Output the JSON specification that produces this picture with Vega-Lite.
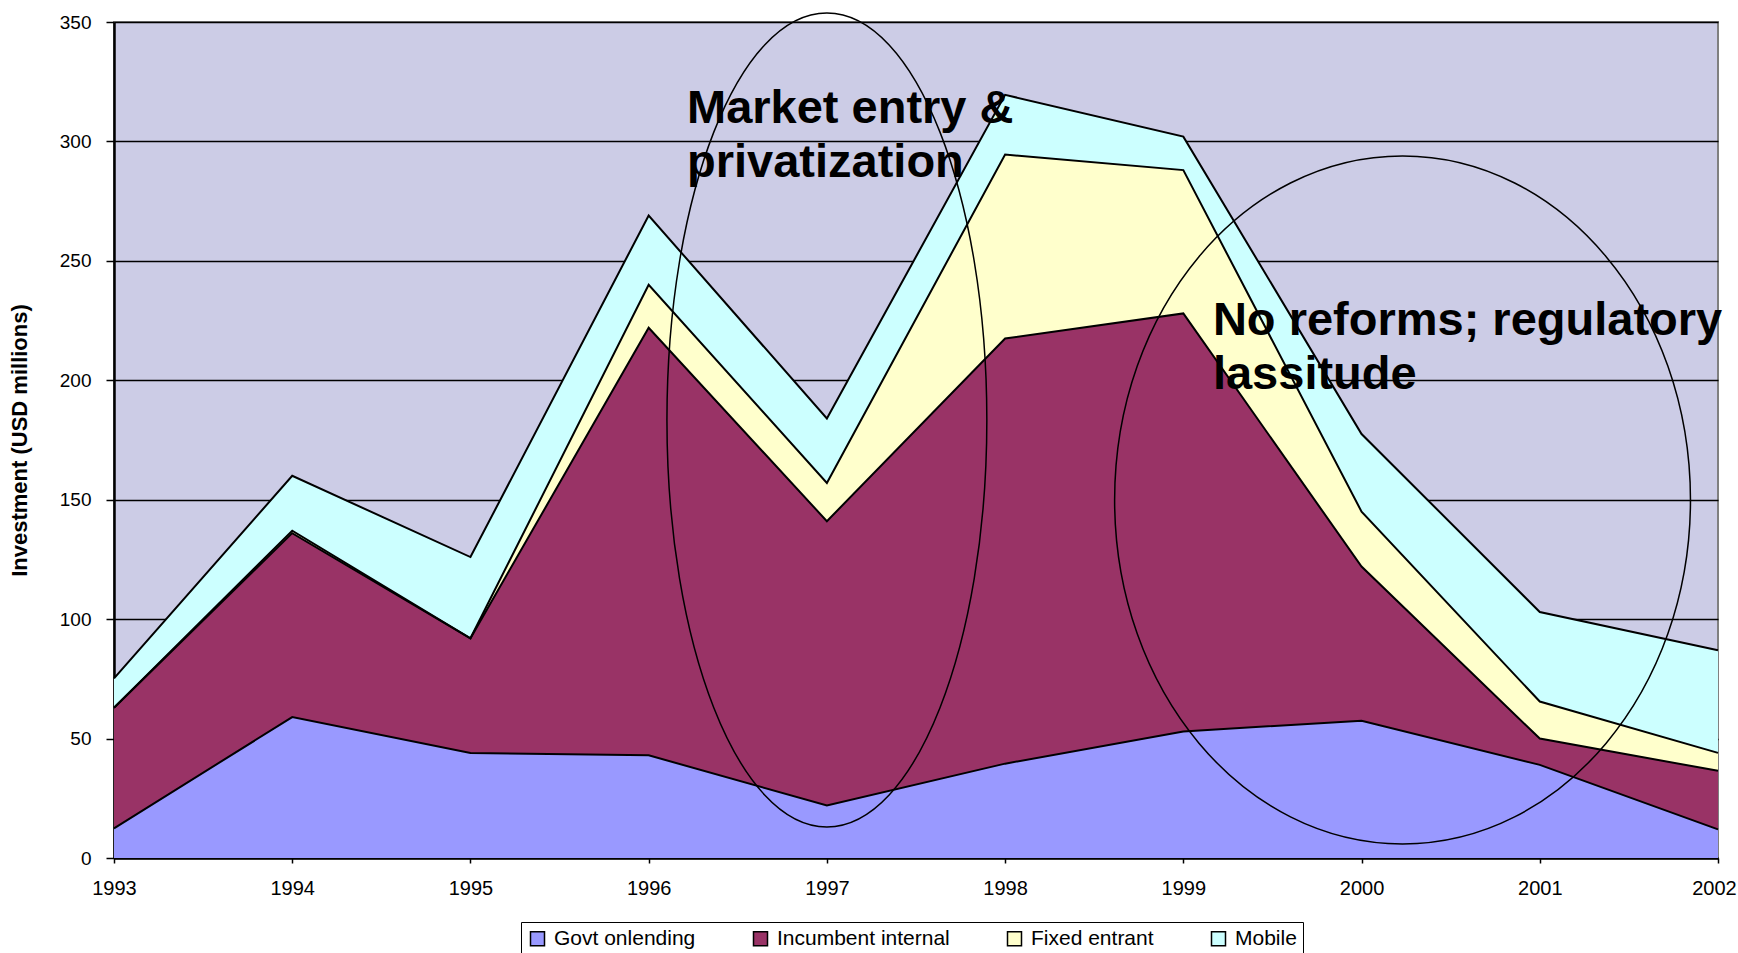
{
  "$schema": "https://vega.github.io/schema/vega-lite/v6.json",
  "width": 1604,
  "height": 836,
  "autosize": {"type": "none"},
  "padding": {"left": 114, "top": 22, "right": 20, "bottom": 95},
  "background": "white",
  "config": {
    "font": "Liberation Sans",
    "view": {"fill": "#CCCCE6", "stroke": "#808080", "strokeWidth": 2}
  },
  "datasets": {
    "inv": [
      {"year": 1993, "series": "Govt onlending", "rank": 1, "value": 12.4},
      {"year": 1994, "series": "Govt onlending", "rank": 1, "value": 59},
      {"year": 1995, "series": "Govt onlending", "rank": 1, "value": 44},
      {"year": 1996, "series": "Govt onlending", "rank": 1, "value": 43},
      {"year": 1997, "series": "Govt onlending", "rank": 1, "value": 22},
      {"year": 1998, "series": "Govt onlending", "rank": 1, "value": 39.5},
      {"year": 1999, "series": "Govt onlending", "rank": 1, "value": 53},
      {"year": 2000, "series": "Govt onlending", "rank": 1, "value": 57.5},
      {"year": 2001, "series": "Govt onlending", "rank": 1, "value": 39},
      {"year": 2002, "series": "Govt onlending", "rank": 1, "value": 12},
      {"year": 1993, "series": "Incumbent internal", "rank": 2, "value": 50.5},
      {"year": 1994, "series": "Incumbent internal", "rank": 2, "value": 77},
      {"year": 1995, "series": "Incumbent internal", "rank": 2, "value": 48},
      {"year": 1996, "series": "Incumbent internal", "rank": 2, "value": 179},
      {"year": 1997, "series": "Incumbent internal", "rank": 2, "value": 119},
      {"year": 1998, "series": "Incumbent internal", "rank": 2, "value": 178},
      {"year": 1999, "series": "Incumbent internal", "rank": 2, "value": 175},
      {"year": 2000, "series": "Incumbent internal", "rank": 2, "value": 64.5},
      {"year": 2001, "series": "Incumbent internal", "rank": 2, "value": 11},
      {"year": 2002, "series": "Incumbent internal", "rank": 2, "value": 24.5},
      {"year": 1993, "series": "Fixed entrant", "rank": 3, "value": 0},
      {"year": 1994, "series": "Fixed entrant", "rank": 3, "value": 1},
      {"year": 1995, "series": "Fixed entrant", "rank": 3, "value": 0},
      {"year": 1996, "series": "Fixed entrant", "rank": 3, "value": 18},
      {"year": 1997, "series": "Fixed entrant", "rank": 3, "value": 16},
      {"year": 1998, "series": "Fixed entrant", "rank": 3, "value": 77},
      {"year": 1999, "series": "Fixed entrant", "rank": 3, "value": 60},
      {"year": 2000, "series": "Fixed entrant", "rank": 3, "value": 23},
      {"year": 2001, "series": "Fixed entrant", "rank": 3, "value": 15.5},
      {"year": 2002, "series": "Fixed entrant", "rank": 3, "value": 7.5},
      {"year": 1993, "series": "Mobile", "rank": 4, "value": 12.3},
      {"year": 1994, "series": "Mobile", "rank": 4, "value": 23},
      {"year": 1995, "series": "Mobile", "rank": 4, "value": 34},
      {"year": 1996, "series": "Mobile", "rank": 4, "value": 29},
      {"year": 1997, "series": "Mobile", "rank": 4, "value": 27},
      {"year": 1998, "series": "Mobile", "rank": 4, "value": 25},
      {"year": 1999, "series": "Mobile", "rank": 4, "value": 14},
      {"year": 2000, "series": "Mobile", "rank": 4, "value": 32.5},
      {"year": 2001, "series": "Mobile", "rank": 4, "value": 37.5},
      {"year": 2002, "series": "Mobile", "rank": 4, "value": 43}
    ],
    "notes": [
      {"year": 1996.215, "value": 307.7, "label": "Market entry &\nprivatization"},
      {"year": 1999.166, "value": 219.1, "label": "No reforms; regulatory\nlassitude"}
    ]
  },
  "layer": [
    {
      "data": {"name": "inv"},
      "mark": {"type": "area", "opacity": 1},
      "encoding": {
        "x": {
          "field": "year", "type": "quantitative",
          "scale": {"domain": [1993, 2002], "nice": false, "zero": false},
          "axis": {
            "title": null, "values": [1993, 1994, 1995, 1996, 1997, 1998, 1999, 2000, 2001, 2002],
            "format": "d", "grid": false, "labelFontSize": 20, "labelColor": "black",
            "labelOffset": {"condition": {"test": "datum.value == 2002", "value": -4}, "value": 0},
            "tickColor": "black", "tickSize": 5, "tickWidth": 1.5, "domainColor": "black", "domainWidth": 2.5,
            "labelPadding": 15, "labelFlush": false
          }
        },
        "y": {
          "field": "value", "type": "quantitative", "stack": "zero",
          "scale": {"domain": [0, 350], "nice": false},
          "axis": {
            "title": "Investment (USD millions)", "values": [0, 50, 100, 150, 200, 250, 300, 350],
            "grid": true, "gridColor": "black", "gridWidth": 1.5,
            "labelFontSize": 19, "labelColor": "black", "labelPadding": 15,
            "tickColor": "black", "tickSize": 8, "tickWidth": 1.5,
            "domainColor": "black", "domainWidth": 2.5,
            "titleFontSize": 22, "titleFontWeight": "bold", "titleColor": "black", "titlePadding": 28
          }
        },
        "color": {
          "field": "series", "type": "nominal",
          "scale": {
            "domain": ["Govt onlending", "Incumbent internal", "Fixed entrant", "Mobile"],
            "range": ["#9999FF", "#993366", "#FFFFCC", "#CCFFFF"]
          },
          "legend": {
            "orient": "none", "legendX": 407, "legendY": 900, "direction": "horizontal", "columns": 4,
            "title": null, "symbolType": "square", "symbolSize": 196,
            "symbolStrokeColor": "black", "symbolStrokeWidth": 1.5, "symbolOpacity": 1,
            "labelFontSize": 21, "labelColor": "black", "labelOffset": 6, "labelLimit": 400,
            "columnPadding": 54, "padding": 6,
            "strokeColor": "black", "fillColor": "white"
          }
        },
        "order": {"field": "rank", "type": "quantitative", "sort": "ascending"}
      }
    },
    {
      "data": {"name": "inv"},
      "mark": {"type": "line", "color": "black", "strokeWidth": 2},
      "encoding": {
        "x": {"field": "year", "type": "quantitative"},
        "y": {"field": "value", "type": "quantitative", "stack": "zero"},
        "detail": {"field": "series", "type": "nominal"},
        "order": {"field": "rank", "type": "quantitative", "sort": "ascending"}
      }
    },
    {
      "data": {"name": "notes"},
      "mark": {"type": "text", "align": "left", "baseline": "alphabetic", "fontSize": 47, "fontWeight": "bold", "lineBreak": "\n", "lineHeight": 54, "color": "black"},
      "encoding": {
        "x": {"field": "year", "type": "quantitative"},
        "y": {"field": "value", "type": "quantitative"},
        "text": {"field": "label", "type": "nominal"}
      }
    },
    {
      "data": {"values": [{"year": 1997.0, "value": 183.4}]},
      "mark": {
        "type": "point", "filled": false, "opacity": 1, "stroke": "black", "strokeWidth": 1.5, "clip": false,
        "size": 662596,
        "shape": "M 0.393 0 C 0.393 0.5523 0.217 1 0 1 C -0.217 1 -0.393 0.5523 -0.393 0 C -0.393 -0.5523 -0.217 -1 0 -1 C 0.217 -1 0.393 -0.5523 0.393 0 Z"
      },
      "encoding": {
        "x": {"field": "year", "type": "quantitative"},
        "y": {"field": "value", "type": "quantitative"}
      }
    },
    {
      "data": {"values": [{"year": 2000.23, "value": 149.9}]},
      "mark": {
        "type": "point", "filled": false, "opacity": 1, "stroke": "black", "strokeWidth": 1.5, "clip": false,
        "size": 473344,
        "shape": "M 0.837 0 C 0.837 0.5523 0.4623 1 0 1 C -0.4623 1 -0.837 0.5523 -0.837 0 C -0.837 -0.5523 -0.4623 -1 0 -1 C 0.4623 -1 0.837 -0.5523 0.837 0 Z"
      },
      "encoding": {
        "x": {"field": "year", "type": "quantitative"},
        "y": {"field": "value", "type": "quantitative"}
      }
    }
  ]
}
